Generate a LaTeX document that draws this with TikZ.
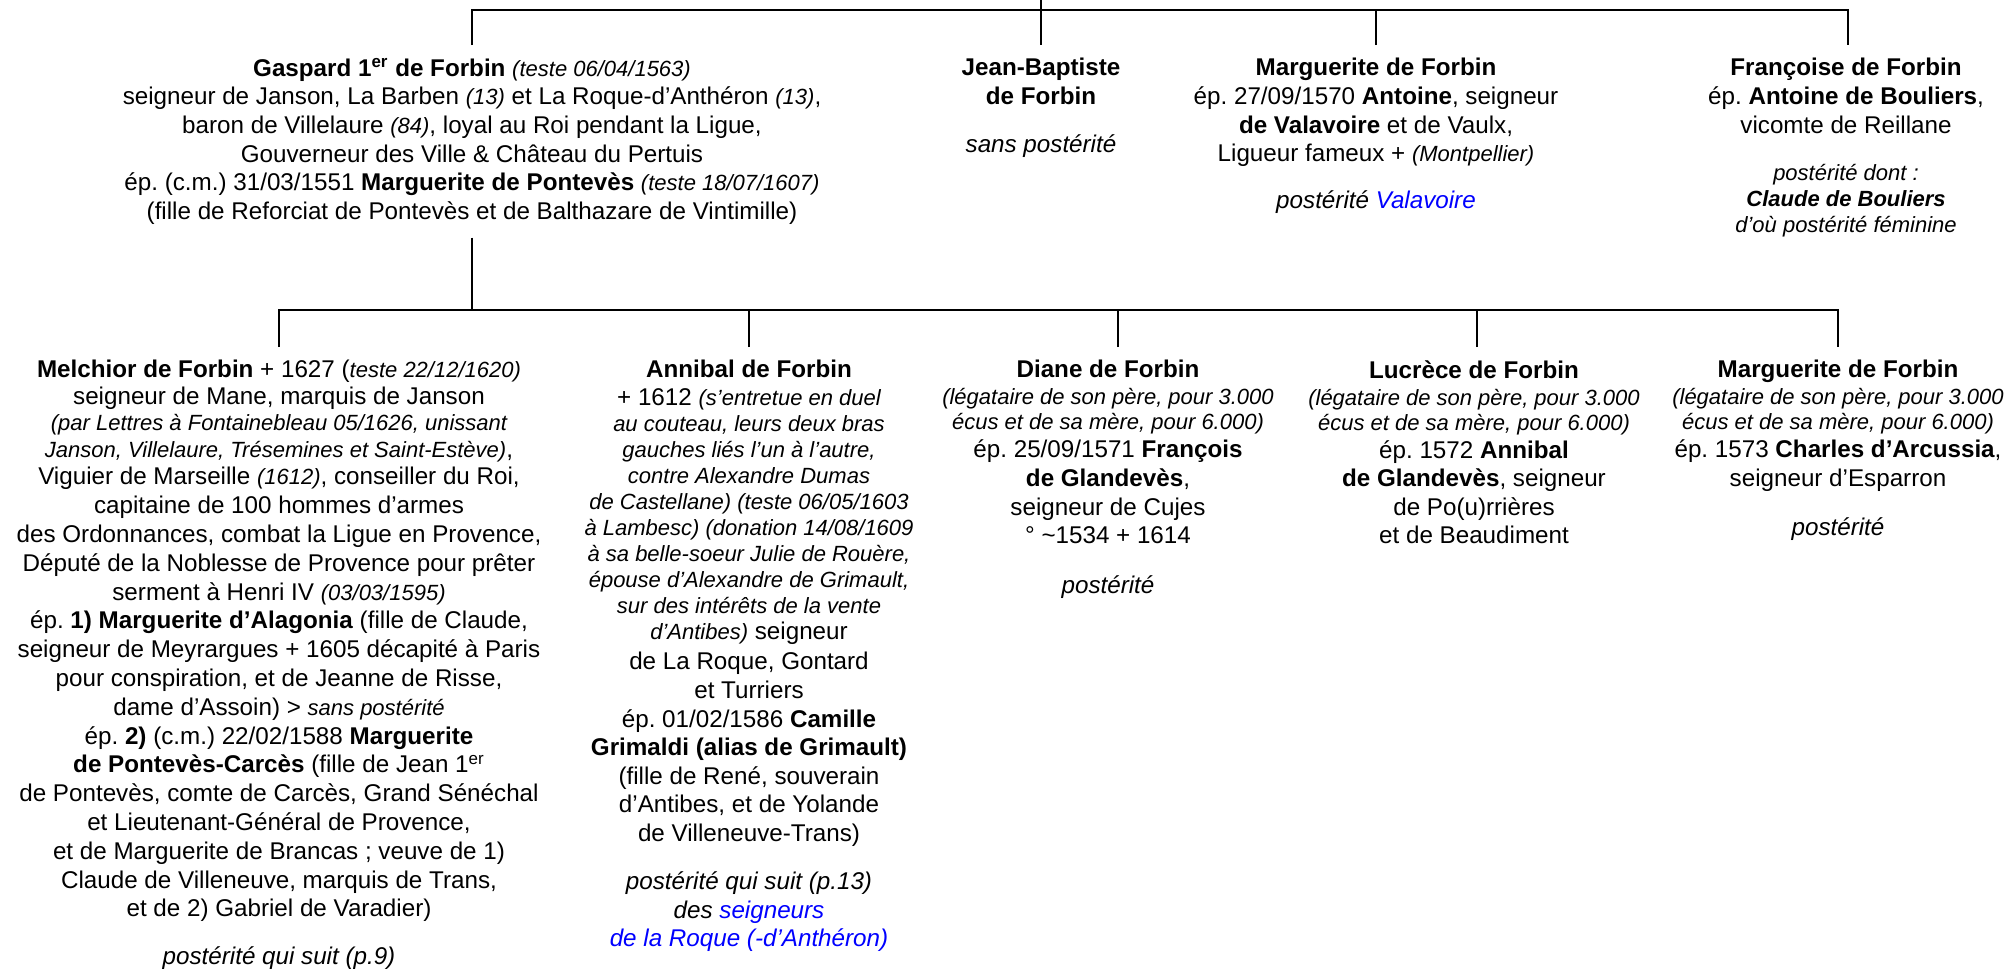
\documentclass[tikz,border=0pt]{standalone}
\usepackage{fontspec}
\setmainfont{Liberation Sans}
\frenchspacing
\definecolor{lnk}{RGB}{0,0,255}
\newcommand\nt[1]{{\fontsize{11}{13}\selectfont\itshape #1}}
\newcommand\lk[1]{\textcolor{lnk}{#1}}
\begin{document}
\begin{tikzpicture}[x=0.5pt,y=-0.5pt,
  person/.style={anchor=north, align=center, inner xsep=0pt, inner ysep=6.5pt,
    font=\fontsize{12.1}{14.3}\selectfont},
  famline/.style={draw=black, line width=1.4pt, line join=miter}]
\useasboundingbox (0,0) rectangle (2013,969);
\coordinate (root) at (1041,0);
\coordinate (bar1) at (0,10);
\coordinate (bar2) at (0,310);

% first generation
\node[person] (gaspard) at (472,45) {\textbf{Gaspard 1\textsuperscript{er} de Forbin} \nt{(teste 06/04/1563)}\\
seigneur de Janson, La Barben \nt{(13)} et La Roque-d’Anthéron \nt{(13)},\\
baron de Villelaure \nt{(84)}, loyal au Roi pendant la Ligue,\\
Gouverneur des Ville \& Château du Pertuis\\
ép. (c.m.) 31/03/1551 \textbf{Marguerite de Pontevès} \nt{(teste 18/07/1607)}\\
(fille de Reforciat de Pontevès et de Balthazare de Vintimille)};

\node[person] (jb) at (1041,45) {\textbf{Jean-Baptiste}\\
\textbf{de Forbin}\\[9.7pt]
\textit{sans postérité}};

\node[person] (marg1) at (1376,45) {\textbf{Marguerite de Forbin}\\
ép. 27/09/1570 \textbf{Antoine}, seigneur\\
\textbf{de Valavoire} et de Vaulx,\\
Ligueur fameux + \nt{(Montpellier)}\\[9.2pt]
\textit{postérité} \lk{\textit{Valavoire}}};

\node[person] (francoise) at (1846,45) {\textbf{Françoise de Forbin}\\
ép. \textbf{Antoine de Bouliers},\\
vicomte de Reillane\\[9.2pt]
\nt{postérité dont :}\\[-1.3pt]
\nt{\textbf{Claude de Bouliers}}\\[-1.3pt]
\nt{d’où postérité féminine}};

% second generation
\node[person, font=\fontsize{12.1}{14.4}\selectfont] (melchior) at (279,347) {\textbf{Melchior de Forbin} + 1627 (\nt{teste 22/12/1620)}\\[-0.9pt]
seigneur de Mane, marquis de Janson\\[-1.4pt]
\nt{(par Lettres à Fontainebleau 05/1626, unissant}\\[-0.9pt]
\nt{Janson, Villelaure, Trésemines et Saint-Estève)},\\[-0.9pt]
Viguier de Marseille \nt{(1612)}, conseiller du Roi,\\
capitaine de 100 hommes d’armes\\
des Ordonnances, combat la Ligue en Provence,\\
Député de la Noblesse de Provence pour prêter\\
serment à Henri IV \nt{(03/03/1595)}\\
ép. \textbf{1) Marguerite d’Alagonia} (fille de Claude,\\
seigneur de Meyrargues + 1605 décapité à Paris\\
pour conspiration, et de Jeanne de Risse,\\
dame d’Assoin) > \nt{sans postérité}\\
ép. \textbf{2)} (c.m.) 22/02/1588 \textbf{Marguerite}\\
\textbf{de Pontevès-Carcès} (fille de Jean 1\textsuperscript{er}\\
de Pontevès, comte de Carcès, Grand Sénéchal\\
et Lieutenant-Général de Provence,\\
et de Marguerite de Brancas ; veuve de 1)\\
Claude de Villeneuve, marquis de Trans,\\
et de 2) Gabriel de Varadier)\\[9.6pt]
\textit{postérité qui suit (p.9)}};

\node[person] (annibal) at (749,347) {\textbf{Annibal de Forbin}\\[-0.3pt]
+ 1612 \nt{(s’entretue en duel}\\[-1.3pt]
\nt{au couteau, leurs deux bras}\\[-1.3pt]
\nt{gauches liés l’un à l’autre,}\\[-1.3pt]
\nt{contre Alexandre Dumas}\\[-1.3pt]
\nt{de Castellane) (teste 06/05/1603}\\[-1.3pt]
\nt{à Lambesc) (donation 14/08/1609}\\[-1.3pt]
\nt{à sa belle-soeur Julie de Rouère,}\\[-1.3pt]
\nt{épouse d’Alexandre de Grimault,}\\[-1.3pt]
\nt{sur des intérêts de la vente}\\[-1.3pt]
\nt{d’Antibes)} seigneur\\[0.7pt]
de La Roque, Gontard\\
et Turriers\\
ép. 01/02/1586 \textbf{Camille}\\
\textbf{Grimaldi (alias de Grimault)}\\
(fille de René, souverain\\
d’Antibes, et de Yolande\\
de Villeneuve-Trans)\\[9.7pt]
\textit{postérité qui suit (p.13)}\\
\textit{des} \lk{\textit{seigneurs}}\\
\lk{\textit{de la Roque (-d’Anthéron)}}};

\node[person] (diane) at (1108,347) {\textbf{Diane de Forbin}\\[-0.8pt]
\nt{(légataire de son père, pour 3.000}\\[-1.8pt]
\nt{écus et de sa mère, pour 6.000)}\\[-0.3pt]
ép. 25/09/1571 \textbf{François}\\
\textbf{de Glandevès},\\
seigneur de Cujes\\
° \textasciitilde1534 + 1614\\[10.7pt]
\textit{postérité}};

\node[person] (lucrece) at (1474,347) {\textbf{Lucrèce de Forbin}\\[-0.8pt]
\nt{(légataire de son père, pour 3.000}\\[-1.8pt]
\nt{écus et de sa mère, pour 6.000)}\\[-0.3pt]
ép. 1572 \textbf{Annibal}\\
\textbf{de Glandevès}, seigneur\\
de Po(u)rrières\\
et de Beaudiment};

\node[person] (marg2) at (1838,347) {\textbf{Marguerite de Forbin}\\[-0.8pt]
\nt{(légataire de son père, pour 3.000}\\[-1.8pt]
\nt{écus et de sa mère, pour 6.000)}\\[-0.3pt]
ép. 1573 \textbf{Charles d’Arcussia},\\
seigneur d’Esparron\\[10.2pt]
\textit{postérité}};

% connectors, first generation
\draw[famline] (root) -- (jb.north);
\draw[famline] (gaspard.north) -- (gaspard.north |- bar1) -- ([xshift=1pt]francoise.north |- bar1) -- ([xshift=1pt]francoise.north);
\draw[famline] (marg1.north) -- (marg1.north |- bar1);

% connectors, second generation
\draw[famline] (gaspard.south) -- (gaspard.south |- bar2);
\draw[famline] (melchior.north) -- (melchior.north |- bar2) -- (marg2.north |- bar2) -- (marg2.north);
\draw[famline] (annibal.north) -- (annibal.north |- bar2);
\draw[famline] ([xshift=5pt]diane.north) -- ([xshift=5pt]diane.north |- bar2);
\draw[famline] ([xshift=1.5pt]lucrece.north) -- ([xshift=1.5pt]lucrece.north |- bar2);
\end{tikzpicture}
\end{document}
